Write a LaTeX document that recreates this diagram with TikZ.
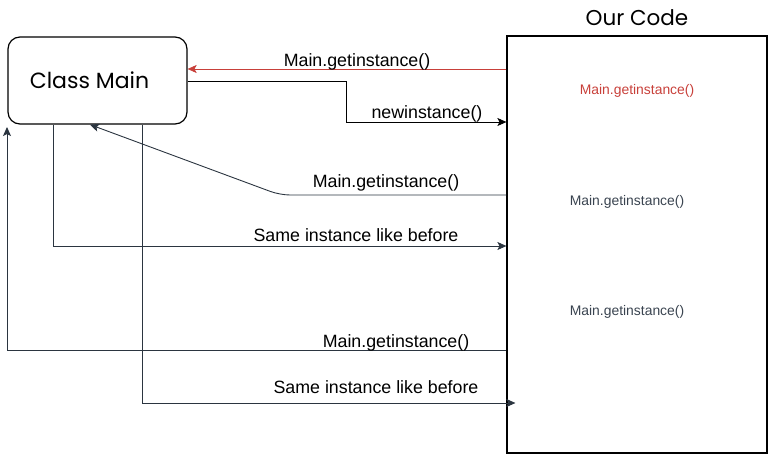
\documentclass[tikz,border=0pt]{standalone}
\usepackage{fontspec}
\setmainfont{Liberation Sans}
\newfontfamily\handfont{Poppins}
\usetikzlibrary{arrows.meta}
\definecolor{linecol}{HTML}{2B3540}
\definecolor{callred}{HTML}{C8403A}
\definecolor{notegray}{HTML}{3A4450}
\tikzstyle{class box}=[draw,line width=1.2pt,rounded corners=12pt,
    minimum width=179pt,minimum height=87pt,inner sep=0pt,
    font=\handfont\fontsize{22}{26}\selectfont]
\tikzstyle{code box}=[draw,line width=1.2pt,minimum width=260pt,
    minimum height=417pt,inner sep=0pt]
\tikzstyle{call}=[line width=0.9pt,color=linecol,
    -{Stealth[length=9pt,width=8pt,inset=2pt]}]
\tikzstyle{call label}=[inner sep=0pt,anchor=base,
    font=\fontsize{17.8}{20}\selectfont]
\tikzstyle{code line}=[inner sep=0pt,anchor=base,text=notegray,
    font=\fontsize{13.9}{16}\selectfont]
\begin{document}
\begin{tikzpicture}[x=1pt,y=-1pt]
    \useasboundingbox (0,0) rectangle (768,455);
    \node[class box] (main) at (97.5,80.5) {Class Main\hspace*{16pt}};
    \node[code box] (code) at (637,244.5) {};
    \node[anchor=base,inner sep=0pt,
        font=\handfont\fontsize{21.5}{26}\selectfont] (title) at (637,25) {Our Code};
    %
    \node[code line,text=callred] (line1) at (637,94) {Main.getinstance()};
    \node[code line] (line2) at (627,205) {Main.getinstance()};
    \node[code line] (line3) at (627,315) {Main.getinstance()};
    %
    \draw[call,callred] (code.west|-0,69) -- (main.east|-0,69);
    \node[call label] (get1) at (357,66) {Main.getinstance()};
    %
    \draw[call,color=black] (main.east|-0,81) -- (346,81) -- (346,122)
        -- (code.west|-0,122);
    \node[call label] (new) at (427,118) {newinstance()};
    %
    \draw[call,rounded corners=10pt] (code.west|-0,195) -- (280,195)
        -- (90,0|-main.south);
    \node[call label] (get2) at (386,187) {Main.getinstance()};
    %
    \draw[call] (53,0|-main.south) -- (53,246) -- (code.west|-0,246);
    \node[call label] (same1) at (356,241) {Same instance like before};
    %
    \draw[call] (code.west|-0,350) -- (7,350) -- (7,127);
    \node[call label] (get3) at (396,347) {Main.getinstance()};
    %
    \draw[call] (142,0|-main.south) -- (142,403) -- ([xshift=9pt]code.west|-0,403);
    \node[call label] (same2) at (376,393) {Same instance like before};
\end{tikzpicture}
\end{document}
